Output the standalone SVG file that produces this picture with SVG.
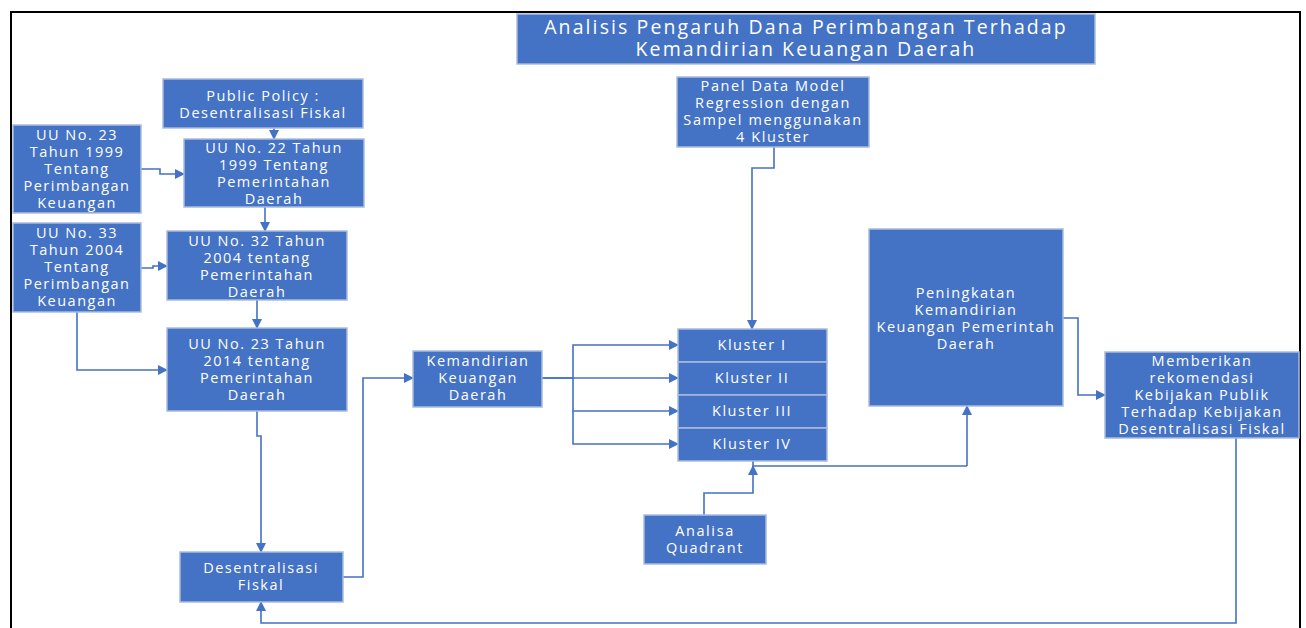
<svg xmlns="http://www.w3.org/2000/svg" width="1306" height="628" viewBox="0 0 1306 628">
<defs>
<marker id="ah" viewBox="0 0 10 10" refX="9" refY="5" markerWidth="10" markerHeight="10" markerUnits="userSpaceOnUse" orient="auto">
<path d="M0,0 L10,5 L0,10 z" fill="#4472C4"/>
</marker>
<style>
.box{fill:#4472C4;stroke:#A9BCDD;stroke-width:1.5}
.t{font-family:"Open Sans","Noto Sans",sans-serif;font-size:14.5px;fill:#ffffff;text-anchor:middle;letter-spacing:1.5px}
.c{font-family:"Open Sans","Noto Sans",sans-serif;font-size:14.5px;fill:#ffffff;text-anchor:middle;letter-spacing:1.6px}
.ti{font-family:"Open Sans","Noto Sans",sans-serif;font-size:19.5px;fill:#ffffff;text-anchor:middle;letter-spacing:2.1px}
.ln{fill:none;stroke:#4472C4;stroke-width:1.6}
.ar{fill:none;stroke:#4472C4;stroke-width:1.6;marker-end:url(#ah)}
</style>
</defs>
<rect x="0" y="0" width="1306" height="628" fill="#ffffff"/>
<path d="M11,628 V12 H1300 V628" fill="none" stroke="#000000" stroke-width="2"/>

<g id="connectors">
<path class="ar" d="M274,128 V139"/>
<path class="ar" d="M141,169 H160 V174 H184"/>
<path class="ar" d="M265,207 V231"/>
<path class="ar" d="M141,268 H153 V266 H167"/>
<path class="ar" d="M257,300 V328"/>
<path class="ar" d="M77,312 V370 H167"/>
<path class="ar" d="M257,411 V436 H261 V552"/>
<path class="ar" d="M343,577 H363 V378 H413"/>
<path class="ar" d="M542,378 H573 V345 H678"/>
<path class="ar" d="M542,378 H678"/>
<path class="ar" d="M573,378 V411 H678"/>
<path class="ar" d="M573,411 V444 H678"/>
<path class="ar" d="M774,146 V168 H752 V329"/>
<path class="ln" d="M753,461 V466 H967"/>
<path class="ar" d="M967,466 V406"/>
<path class="ar" d="M704,515 V493 H753 V466"/>
<path class="ar" d="M1063,318 H1078 V395 H1105"/>
<path class="ar" d="M1236,438 V623 H261 V602"/>
</g>

<g id="title">
<rect class="box" x="517" y="14" width="578" height="50"/>
<text class="ti" x="806" y="33.5">Analisis Pengaruh Dana Perimbangan Terhadap</text>
<text class="ti" x="806" y="56">Kemandirian Keuangan Daerah</text>
</g>

<g id="public-policy">
<rect class="box" x="163" y="79" width="200" height="49"/>
<text class="t" x="263" y="101">Public Policy :</text>
<text class="t" x="263" y="118">Desentralisasi Fiskal</text>
</g>

<g id="uu22">
<rect class="box" x="184" y="139" width="180" height="68"/>
<text class="t" x="274" y="153">UU No. 22 Tahun</text>
<text class="t" x="274" y="170">1999 Tentang</text>
<text class="t" x="274" y="187">Pemerintahan</text>
<text class="t" x="274" y="204">Daerah</text>
</g>

<g id="uu23-1999">
<rect class="box" x="13" y="125" width="128" height="88"/>
<text class="t" x="77" y="140">UU No. 23</text>
<text class="t" x="77" y="157">Tahun 1999</text>
<text class="t" x="77" y="174">Tentang</text>
<text class="t" x="77" y="191">Perimbangan</text>
<text class="t" x="77" y="208">Keuangan</text>
</g>

<g id="uu33">
<rect class="box" x="13" y="223" width="128" height="89"/>
<text class="t" x="77" y="238">UU No. 33</text>
<text class="t" x="77" y="255">Tahun 2004</text>
<text class="t" x="77" y="272">Tentang</text>
<text class="t" x="77" y="289">Perimbangan</text>
<text class="t" x="77" y="306">Keuangan</text>
</g>

<g id="uu32">
<rect class="box" x="167" y="231" width="180" height="69"/>
<text class="t" x="257" y="246">UU No. 32 Tahun</text>
<text class="t" x="257" y="263">2004 tentang</text>
<text class="t" x="257" y="280">Pemerintahan</text>
<text class="t" x="257" y="297">Daerah</text>
</g>

<g id="uu23-2014">
<rect class="box" x="167" y="328" width="180" height="83"/>
<text class="t" x="257" y="349">UU No. 23 Tahun</text>
<text class="t" x="257" y="366">2014 tentang</text>
<text class="t" x="257" y="383">Pemerintahan</text>
<text class="t" x="257" y="400">Daerah</text>
</g>

<g id="desentralisasi">
<rect class="box" x="180" y="552" width="163" height="50"/>
<text class="t" x="261" y="573">Desentralisasi</text>
<text class="t" x="261" y="590">Fiskal</text>
</g>

<g id="kemandirian">
<rect class="box" x="413" y="351" width="129" height="56"/>
<text class="t" x="478" y="366">Kemandirian</text>
<text class="t" x="478" y="383">Keuangan</text>
<text class="t" x="478" y="400">Daerah</text>
</g>

<g id="panel-data">
<rect class="box" x="677" y="77" width="192" height="70"/>
<text class="c" x="773" y="91">Panel Data Model</text>
<text class="c" x="773" y="108">Regression dengan</text>
<text class="c" x="773" y="125">Sampel menggunakan</text>
<text class="c" x="773" y="142">4 Kluster</text>
</g>

<g id="kluster">
<rect class="box" x="678" y="329" width="149" height="33"/>
<text class="t" x="752" y="350">Kluster I</text>
<rect class="box" x="678" y="362" width="149" height="33"/>
<text class="t" x="752" y="383">Kluster II</text>
<rect class="box" x="678" y="395" width="149" height="33"/>
<text class="t" x="752" y="416">Kluster III</text>
<rect class="box" x="678" y="428" width="149" height="33"/>
<text class="t" x="752" y="449">Kluster IV</text>
</g>

<g id="peningkatan">
<rect class="box" x="869" y="229" width="194" height="177"/>
<text class="t" x="966" y="298">Peningkatan</text>
<text class="t" x="966" y="315">Kemandirian</text>
<text class="t" x="966" y="332">Keuangan Pemerintah</text>
<text class="t" x="966" y="349">Daerah</text>
</g>

<g id="memberikan">
<rect class="box" x="1105" y="352" width="194" height="86"/>
<text class="t" x="1202" y="366">Memberikan</text>
<text class="t" x="1202" y="383">rekomendasi</text>
<text class="t" x="1202" y="400">Kebijakan Publik</text>
<text class="t" x="1202" y="417">Terhadap Kebijakan</text>
<text class="t" x="1202" y="434">Desentralisasi Fiskal</text>
</g>

<g id="analisa">
<rect class="box" x="644" y="515" width="122" height="49"/>
<text class="c" x="705" y="536">Analisa</text>
<text class="c" x="705" y="553">Quadrant</text>
</g>
</svg>
